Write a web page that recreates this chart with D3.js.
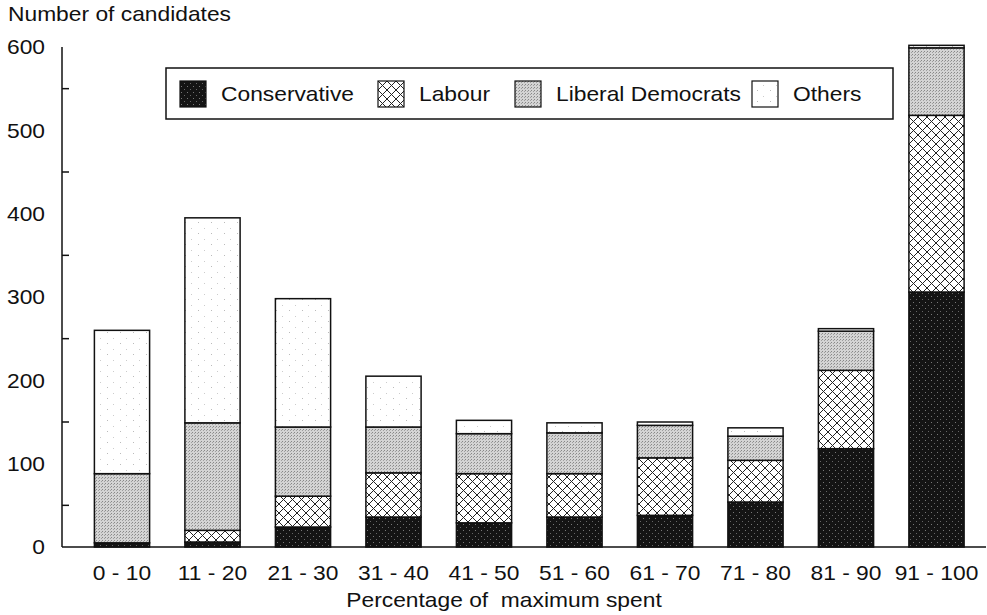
<!DOCTYPE html>
<html><head><meta charset="utf-8">
<script src="https://cdn.jsdelivr.net/npm/d3@7/dist/d3.min.js"></script>
<style>body{margin:0;background:#fff}svg{display:block}text{font-family:"Liberation Sans",Arial,Helvetica,sans-serif;fill:#111}</style>
</head><body>
<script>
const categories = ["0 - 10","11 - 20","21 - 30","31 - 40","41 - 50","51 - 60","61 - 70","71 - 80","81 - 90","91 - 100"];
const conservative = [5,6,24,36,29,36,38,54,118,306];
const labour = [0,14,37,53,59,52,69,50,94,212];
const libDem = [83,129,83,55,48,49,39,29,47,81];
const others = [172,246,154,61,16,12,4,10,3,3];
const seriesNames = ["Conservative","Labour","Liberal Democrats","Others"];
const yTickLabels = [0,100,200,300,400,500,600];
const yMinorTicks = [50,150,250,350,450,550];

const W=987,H=615, SX=1.14, FS=20;
const svg=d3.select("body").append("svg").attr("width",W).attr("height",H);
const defs=svg.append("defs");
const pc=defs.append("pattern").attr("id","p0").attr("patternUnits","userSpaceOnUse").attr("width",6).attr("height",6);
pc.append("rect").attr("width",6).attr("height",6).attr("fill","#141414");
pc.append("rect").attr("x",1).attr("y",2).attr("width",1).attr("height",1).attr("fill","#777");
pc.append("rect").attr("x",4).attr("y",5).attr("width",1).attr("height",1).attr("fill","#666");
const pl=defs.append("pattern").attr("id","p1").attr("patternUnits","userSpaceOnUse").attr("width",9).attr("height",9);
pl.append("rect").attr("width",9).attr("height",9).attr("fill","#fff");
pl.append("path").attr("d","M0,0L9,9M9,0L0,9").attr("stroke","#222").attr("stroke-width",1);
const pd=defs.append("pattern").attr("id","p2").attr("patternUnits","userSpaceOnUse").attr("width",3).attr("height",3);
pd.append("rect").attr("width",3).attr("height",3).attr("fill","#d4d4d4");
pd.append("rect").attr("x",0).attr("y",0).attr("width",1).attr("height",1).attr("fill","#888");
pd.append("rect").attr("x",2).attr("y",1).attr("width",1).attr("height",1).attr("fill","#a0a0a0");
const po=defs.append("pattern").attr("id","p3").attr("patternUnits","userSpaceOnUse").attr("width",13).attr("height",11);
po.append("rect").attr("width",13).attr("height",11).attr("fill","#fff");
po.append("rect").attr("x",3).attr("y",2).attr("width",1).attr("height",1).attr("fill","#bbb");
po.append("rect").attr("x",9).attr("y",8).attr("width",1).attr("height",1).attr("fill","#ccc");
const fills=["url(#p0)","url(#p1)","url(#p2)","url(#p3)"];

const x=d3.scaleBand().domain(categories).range([76.75,981.75]).paddingInner(0.39).paddingOuter(0.195);
const y=d3.scaleLinear().domain([0,600]).range([547,47]);

function label(parent,tx,ty,str,anchor,dy){
  const gg=parent.append("g").attr("transform",`translate(${tx},${ty}) scale(${SX},1)`);
  gg.append("text").attr("x",0).attr("y",0).attr("dy",dy||null).attr("text-anchor",anchor||"start")
    .attr("font-size",FS).attr("xml:space","preserve").style("white-space","pre").text(str);
  return gg;
}

const table=categories.map((c,i)=>({cat:c,"Conservative":conservative[i],"Labour":labour[i],"Liberal Democrats":libDem[i],"Others":others[i]}));
const stacked=d3.stack().keys(seriesNames)(table);

const g=svg.append("g");
stacked.forEach((s,si)=>{
  g.selectAll(null).data(s).join("rect")
   .attr("x",d=>x(d.data.cat)).attr("width",x.bandwidth())
   .attr("y",d=>y(d[1])).attr("height",d=>Math.max(0,y(d[0])-y(d[1])))
   .attr("fill",fills[si]).attr("stroke","#111").attr("stroke-width",1.5);
});

// y axis
svg.append("line").attr("x1",62).attr("x2",62).attr("y1",y(600)).attr("y2",y(0)).attr("stroke","#111").attr("stroke-width",1.5);
svg.selectAll(".mt").data(yMinorTicks).join("line").attr("x1",62).attr("x2",69).attr("y1",d=>y(d)).attr("y2",d=>y(d)).attr("stroke","#111").attr("stroke-width",1.5);
yTickLabels.forEach(v=>label(svg,45,y(v),String(v),"end","0.36em"));
// x axis
svg.append("line").attr("x1",62).attr("x2",986).attr("y1",y(0)).attr("y2",y(0)).attr("stroke","#111").attr("stroke-width",1.5);
categories.forEach(c=>label(svg,x(c)+x.bandwidth()/2,580,c,"middle"));

label(svg,8,21,"Number of candidates","start");
label(svg,504,607,"Percentage of  maximum spent","middle");

// legend
const lg=svg.append("g");
lg.append("rect").attr("x",166).attr("y",68).attr("width",727).attr("height",51).attr("fill","#fff").attr("stroke","#111").attr("stroke-width",1.5);
const legX=[180,378,515,752];
seriesNames.forEach((n,i)=>{
  lg.append("rect").attr("x",legX[i]).attr("y",81).attr("width",26).attr("height",26).attr("fill",fills[i]).attr("stroke","#111").attr("stroke-width",1.2);
  label(lg,legX[i]+41,94,n,"start","0.36em");
});
</script>
</body></html>
